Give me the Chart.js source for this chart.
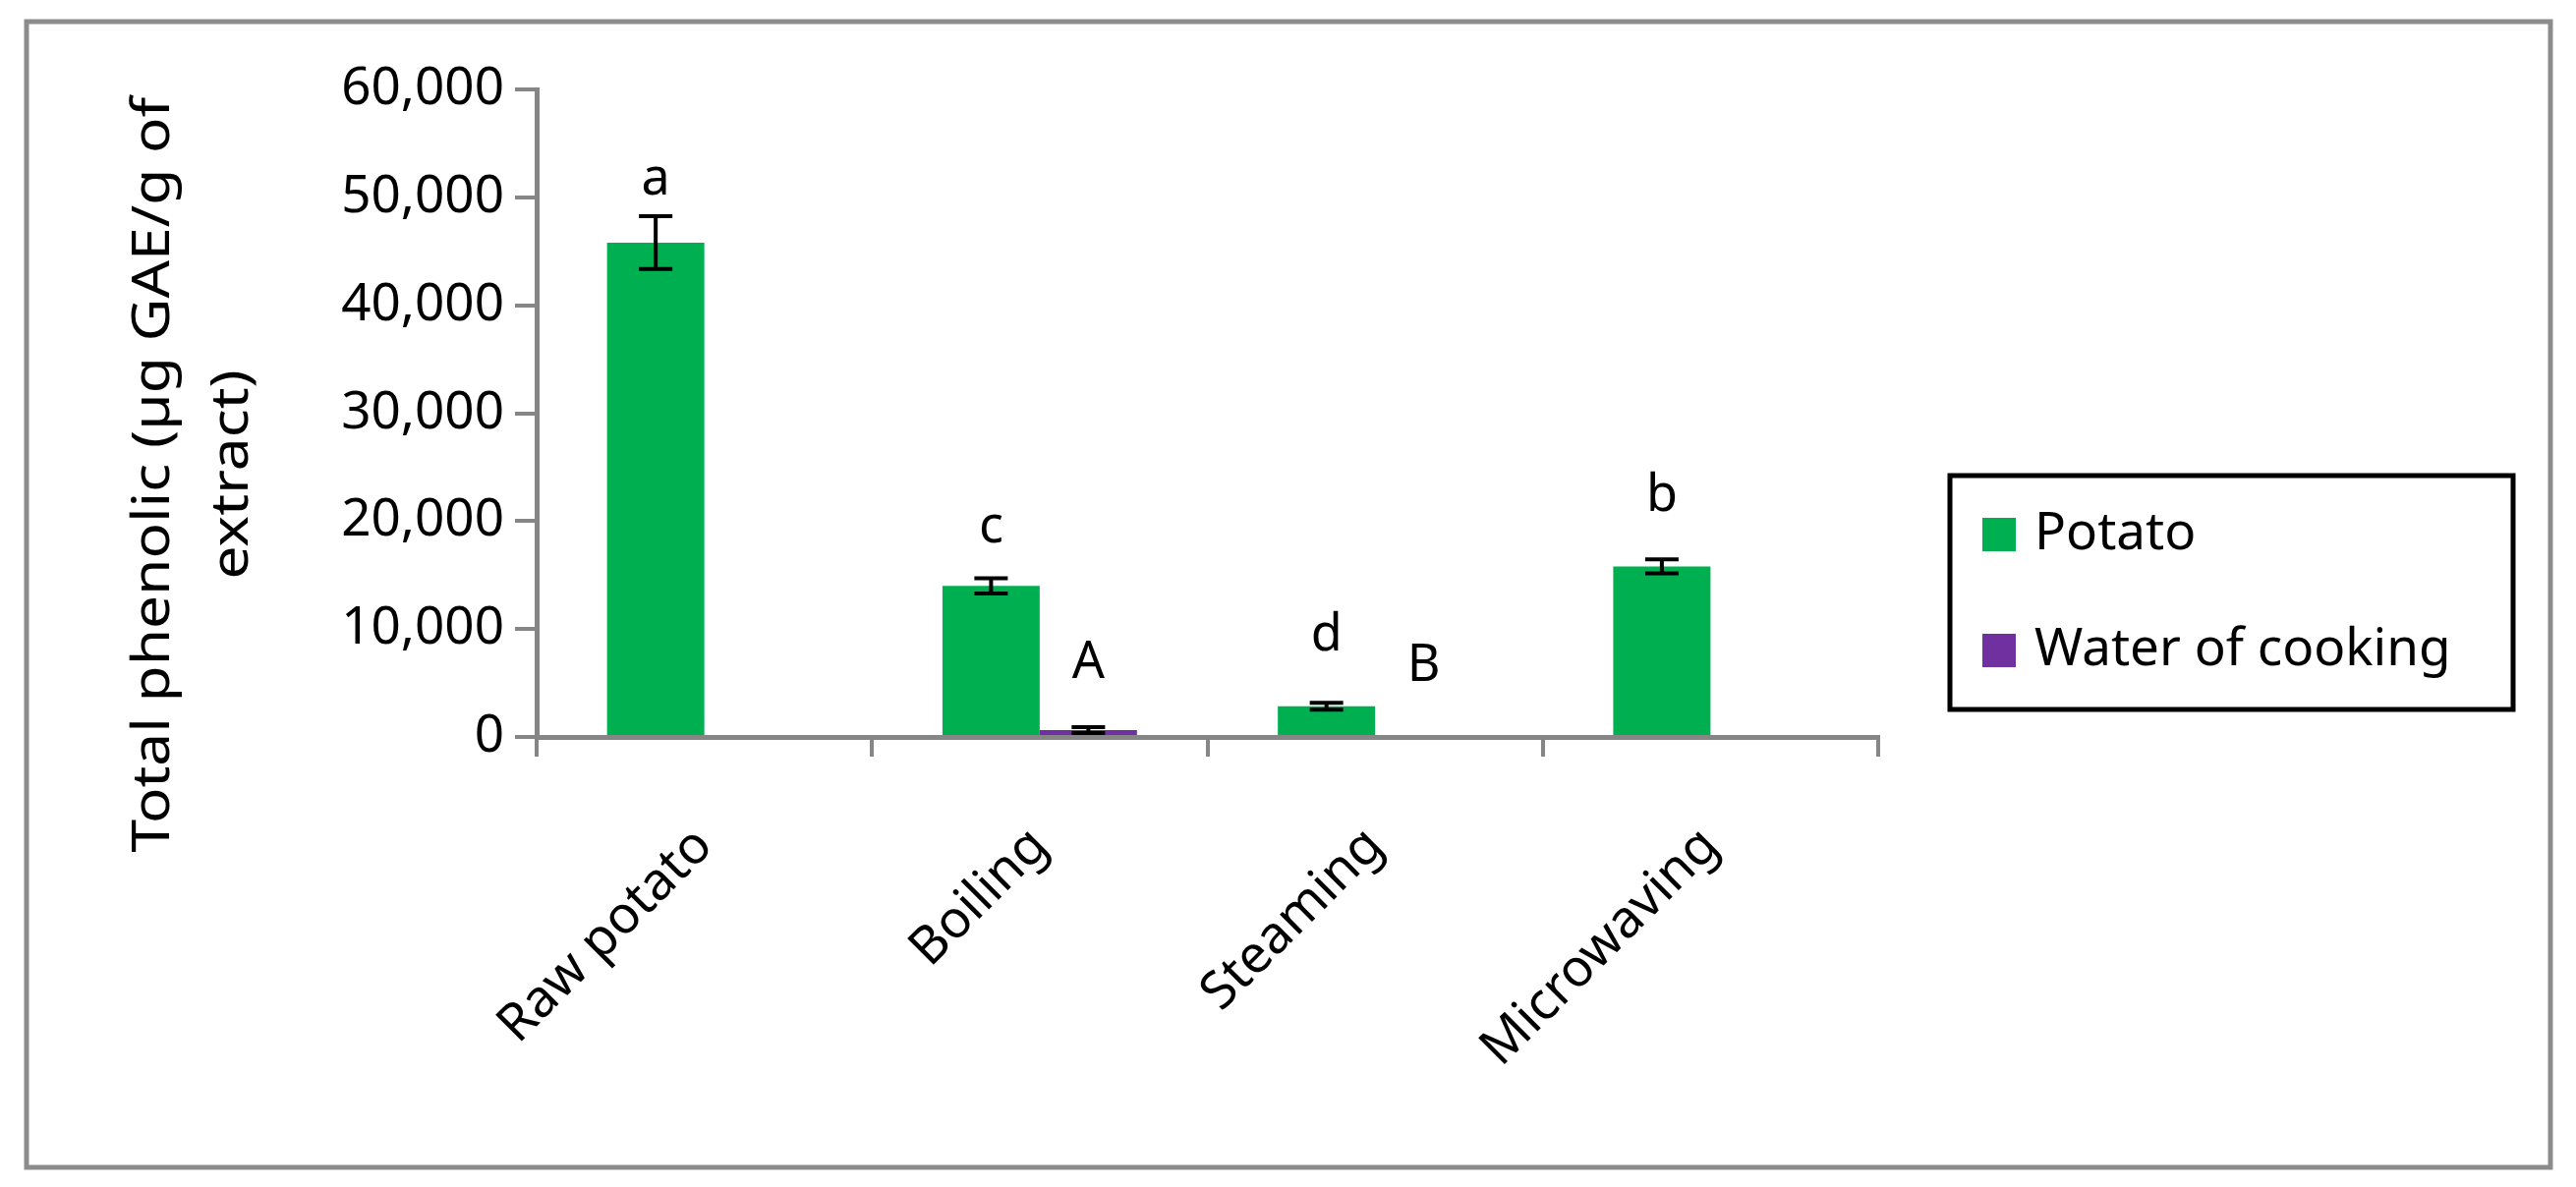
<!DOCTYPE html>
<html>
<head>
<meta charset="utf-8">
<script src="https://cdn.jsdelivr.net/npm/chart.js@4.4.1/dist/chart.umd.min.js"></script>
<style>
  html, body { margin: 0; padding: 0; background: #fff; }
  #wrap { width: 2621px; height: 1208px; position: relative; }
</style>
</head>
<body>
<div id="wrap"><canvas id="phenolic"></canvas></div>
<script>
const categories = ['Raw potato', 'Boiling', 'Steaming', 'Microwaving'];
const potatoValues = [45800, 14000, 2850, 15800];
const potatoErrors = [2450, 700, 320, 650];
const waterValues = [null, 640, 0, null];
const waterErrors = [null, 280, null, null];
const potatoLetters = ['a', 'c', 'd', 'b'];
const potatoLetterLevels = [51600, 19400, 9400, 22300];
const waterLetters = ['', 'A', 'B', ''];
const waterLetterLevels = [null, 6800, 6500, null];
const yTicks = [0, 10000, 20000, 30000, 40000, 50000, 60000];
const yTitle = ['Total phenolic (µg GAE/g of', 'extract)'];

const FONT = '"Noto Sans", "Open Sans", sans-serif';
const AXIS = '#868686';

const errors = [potatoErrors, waterErrors];
const letters = [potatoLetters, waterLetters];
const letterLevels = [potatoLetterLevels, waterLetterLevels];

// frame round the whole figure
const frame = {
    id: 'frame',
    beforeDraw(chart) {
        const { ctx } = chart
        ctx.save()
        ctx.fillStyle = '#fff'
        ctx.fillRect(0, 0, chart.width, chart.height)
        ctx.strokeStyle = '#8c8c8c'
        ctx.lineWidth = 5
        ctx.strokeRect(27, 22, 2568, 1166)
        ctx.restore()
    }
}

// error bars + significance letters
const errorBars = {
    id: 'errorBars',
    afterDatasetsDraw(chart) {
        const { ctx, scales: { y } } = chart
        ctx.save()
        chart.data.datasets.forEach((dataset, i) => {
            chart.getDatasetMeta(i).data.forEach((bar, index) => {
                const v = dataset.data[index]
                const e = errors[i][index]
                if (v != null && e) {
                    const top = y.getPixelForValue(v + e)
                    const bottom = y.getPixelForValue(v - e)
                    ctx.strokeStyle = '#000'
                    ctx.lineWidth = 4
                    ctx.beginPath()
                    ctx.moveTo(bar.x, top)
                    ctx.lineTo(bar.x, bottom)
                    ctx.moveTo(bar.x - 17, top)
                    ctx.lineTo(bar.x + 17, top)
                    ctx.moveTo(bar.x - 17, bottom)
                    ctx.lineTo(bar.x + 17, bottom)
                    ctx.stroke()
                }
                const txt = letters[i][index]
                if (txt) {
                    ctx.fillStyle = '#000'
                    ctx.font = '52px ' + FONT
                    ctx.textAlign = 'center'
                    ctx.textBaseline = 'middle'
                    ctx.fillText(txt, bar.x, y.getPixelForValue(letterLevels[i][index]))
                }
            })
        })
        ctx.restore()
    }
}

// y axis title (two lines) and boxed legend on the right
const extras = {
    id: 'extras',
    afterDraw(chart) {
        const { ctx } = chart
        ctx.save()
        ctx.fillStyle = '#000'
        ctx.font = '53px ' + FONT
        ctx.textAlign = 'center'
        ctx.textBaseline = 'middle'
        ctx.translate(157, 483)
        ctx.rotate(-Math.PI / 2)
        ctx.scale(1.14, 1)   // the original title runs a bit longer than this font
        yTitle.forEach((line, k) => ctx.fillText(line, 0, k * 80))
        ctx.restore()

        ctx.save()
        ctx.strokeStyle = '#000'
        ctx.lineWidth = 5
        ctx.strokeRect(1984, 484, 573, 238)
        ctx.font = '53px ' + FONT
        ctx.textAlign = 'left'
        ctx.textBaseline = 'middle'
        chart.data.datasets.forEach((dataset, i) => {
            const cy = 544 + i * 118
            ctx.fillStyle = dataset.backgroundColor
            ctx.fillRect(2017, cy - 17, 34, 34)
            ctx.fillStyle = '#000'
            ctx.fillText(dataset.label, 2070, cy)
        })
        ctx.restore()
    }
}

new Chart(document.getElementById('phenolic'), {
    type: 'bar',
    data: {
        labels: categories,
        datasets: [
            {
                label: 'Potato',
                data: potatoValues,
                backgroundColor: '#00b050',
                borderWidth: 0,
                categoryPercentage: 0.58,
                barPercentage: 1,
            },
            {
                label: 'Water of cooking',
                data: waterValues,
                backgroundColor: '#7030a0',
                borderWidth: 0,
                categoryPercentage: 0.58,
                barPercentage: 1,
            },
        ],
    },
    options: {
        responsive: true,
        maintainAspectRatio: false,
        devicePixelRatio: 1,
        animation: false,
        layout: {
            padding: { left: 0, top: 91, right: 710, bottom: 58 }
        },
        plugins: {
            legend: { display: false },
            tooltip: { enabled: false },
        },
        scales: {
            x: {
                afterFit(scale) { scale.height = 400 },
                grid: {
                    offset: true,
                    drawOnChartArea: false,
                    tickLength: 20,
                    color: AXIS,
                    lineWidth: 4,
                },
                border: { display: true, color: AXIS, width: 5 },
                ticks: {
                    font: { size: 53, family: FONT },
                    color: '#000',
                    minRotation: 45,
                    maxRotation: 45,
                    padding: 60,
                    autoSkip: false,
                },
            },
            y: {
                min: 0,
                max: 60000,
                afterFit(scale) { scale.width = 546 },
                afterBuildTicks(scale) { scale.ticks = yTicks.map(v => ({ value: v })) },
                grid: {
                    drawOnChartArea: false,
                    tickLength: 22,
                    color: AXIS,
                    lineWidth: 4,
                },
                border: { display: true, color: AXIS, width: 5 },
                ticks: {
                    font: { size: 53, family: FONT },
                    color: '#000',
                    padding: 11,
                },
            },
        },
    },
    plugins: [frame, errorBars, extras]
});
</script>
</body>
</html>
